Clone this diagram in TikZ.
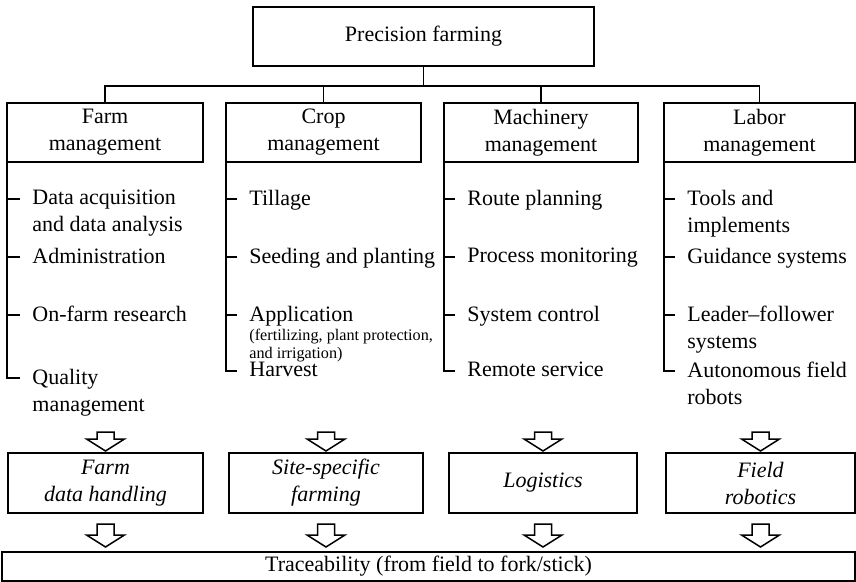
\documentclass[tikz,border=0pt]{standalone}
\usepackage{fontspec}
\setmainfont{Liberation Serif}

\begin{document}
\begin{tikzpicture}[
  x=0.5pt, y=-0.5pt,
  every node/.style={font=\fontsize{11}{13.5}\selectfont},
  line/.style={draw=black, line width=0.75pt},
  box/.style={line, align=center, minimum height=29.5pt, inner sep=2pt, outer sep=0pt},
  outcome/.style={box, minimum height=30pt, font=\fontsize{11}{13.5}\selectfont\itshape},
  item/.style={anchor=north west, yshift=4.5pt, align=left, inner xsep=6pt, inner ysep=0pt},
  pics/hollow/.style={code={
    \draw[line, line join=miter] (-4.25pt,0pt) -- (-4.25pt,-#1) -- (-9.5pt,-#1) -- (0pt,{-#1-6pt})
      -- (9.5pt,-#1) -- (4.25pt,-#1) -- (4.25pt,0pt) -- cycle;}}
]
\useasboundingbox (0,0) rectangle (856,582);

% top and the four areas
\node[box, minimum width=170.5pt] (top) at (423.5,36.5) {Precision farming};
\node[box, minimum width=98pt] (h1) at (105,132.5) {Farm\\management};
\node[box, minimum width=97.5pt] (h2) at (323.5,132.5) {Crop\\management};
\node[box, minimum width=97pt] (h3) at (541,132.5) {Machinery\\management};
\node[box, minimum width=95.5pt] (h4) at (759.5,132.5) {Labor\\management};

\coordinate (bus) at (423.5,86);
\draw[line] (top.south) -- (bus);
\draw[line] (h1.north) |- (bus) -| (h4.north);
\draw[line] (h2.north) -- (h2.north |- bus);
\draw[line] (h3.north) -- (h3.north |- bus);

% lists
\node[item] (f1) at (20,199) {Data acquisition\\and data analysis};
\node[item] (f2) at (20,257) {Administration};
\node[item] (f3) at (20,315) {On-farm research};
\node[item] (f4) at (20,378) {Quality\\management};

\node[item] (c1) at (237,199) {Tillage};
\node[item] (c2) at (237,257) {Seeding and planting};
\node[item] (c3) at (237,315) {Application\\[-4pt]{\fontsize{8.1}{9}\selectfont (fertilizing, plant protection,}\\[-4.5pt]{\fontsize{8.1}{9}\selectfont and irrigation)}};
\node[item] (c4) at (237,371) {Harvest};

\node[item] (m1) at (455,199) {Route planning};
\node[item] (m2) at (455,257) {Process monitoring};
\node[item] (m3) at (455,315) {System control};
\node[item] (m4) at (455,371) {Remote service};

\node[item] (l1) at (675,199) {Tools and\\implements};
\node[item] (l2) at (675,257) {Guidance systems};
\node[item] (l3) at (675,315) {Leader--follower\\systems};
\node[item] (l4) at (675,371) {Autonomous field\\robots};

\foreach \col/\head in {f/h1,c/h2,m/h3,l/h4}
  \foreach \i in {1,...,4}{
    \coordinate (\col\i t) at ([yshift=-4.5pt]\col\i.north west);
    \draw[line] (\head.south west) |- (\col\i t);
  }

% outcomes
\node[outcome, minimum width=97.5pt] (o1) at (105.5,483) {Farm\\data handling};
\node[outcome, minimum width=97pt] (o2) at (326,483) {Site-specific\\farming};
\node[outcome, minimum width=94pt] (o3) at (543,483) {Logistics};
\node[outcome, minimum width=94.5pt] (o4) at (760.5,483) {Field\\robotics};

\node[box, minimum width=426.5pt, minimum height=14.5pt] (trace) at (428.5,566.5) {Traceability (from field to fork/stick)};

\foreach \o in {o1,o2,o3,o4}{
  \pic at ([yshift=10.5pt]\o.north) {hollow=3.5pt};
  \pic at ([yshift=-5.5pt]\o.south) {hollow=5.5pt};
}
\end{tikzpicture}
\end{document}
